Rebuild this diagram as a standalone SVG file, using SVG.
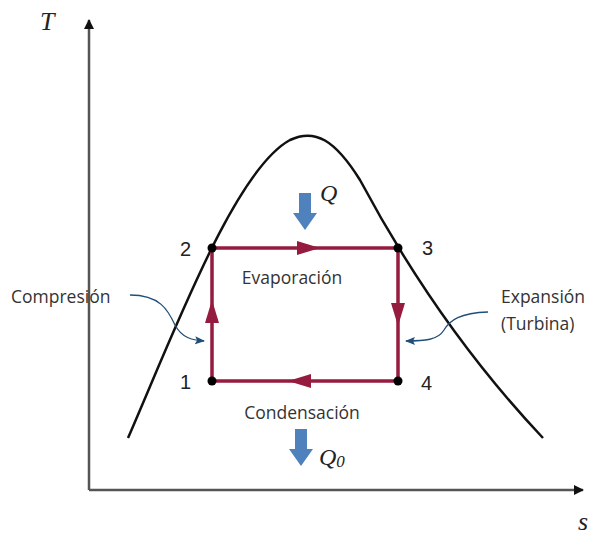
<svg xmlns="http://www.w3.org/2000/svg" width="594" height="536" viewBox="0 0 594 536">
<style>
.axis{stroke:#555;stroke-width:2.5;fill:none}
.cyc{stroke:#951B3F;stroke-width:3.5;fill:none}
.lbl{font-family:"Open Sans","Noto Sans",sans-serif;font-size:17.5px;fill:#333}
.num{font-family:"Liberation Sans",Arial,sans-serif;font-size:20px;fill:#222}
.math{font-family:"Liberation Serif","Times New Roman",serif;font-style:italic;fill:#222}
.blue{fill:#4F81BD}
.curv{stroke:#1F4E79;stroke-width:1.3;fill:none}
</style>
<defs>
<marker id="ax" markerWidth="10" markerHeight="10" refX="9" refY="5" orient="auto" markerUnits="userSpaceOnUse"><path d="M0,0 L10,5 L0,10 Z" fill="#111"/></marker>
<marker id="bl" markerWidth="10" markerHeight="10" refX="9" refY="5" orient="auto" markerUnits="userSpaceOnUse"><path d="M0,1 L10,5 L0,9 L2,5 Z" fill="#1F4E79"/></marker>
</defs>
<rect width="594" height="536" fill="#fff"/>
<g id="axes">
<line class="axis" x1="89" y1="490" x2="89" y2="20" marker-end="url(#ax)"/>
<line class="axis" x1="89" y1="490" x2="583" y2="490" marker-end="url(#ax)"/>
<text class="math" x="40" y="30" font-size="26">T</text>
<text class="math" x="578" y="530" font-size="26">s</text>
</g>
<g id="dome">
<path d="M128,438 C175,330 235,170 290,140 C315,128 335,140 360,180 C400,255 460,350 543,438" stroke="#111" stroke-width="2.5" fill="none"/>
</g>
<g id="connectors">
<path class="cyc" d="M212,381 L212,248 L398,248 L398,381 Z"/>
<polygon points="212,300 205,323 219,323" fill="#951B3F"/>
<polygon points="320,248 297,241 297,255" fill="#951B3F"/>
<polygon points="398,326 391,303 405,303" fill="#951B3F"/>
<polygon points="288,381 311,374 311,388" fill="#951B3F"/>
<path class="curv" d="M130,295 C160,295 168,310 175,325 C182,338 192,340 204,341" marker-end="url(#bl)"/>
<path class="curv" d="M488,312 C460,313 450,320 444,330 C438,340 425,341 406,341" marker-end="url(#bl)"/>
</g>
<g id="node1"><circle cx="212" cy="381" r="4.5" fill="#000"/><text class="num" x="180" y="389">1</text></g>
<g id="node2"><circle cx="212" cy="248" r="4.5" fill="#000"/><text class="num" x="180" y="256">2</text></g>
<g id="node3"><circle cx="398" cy="248" r="4.5" fill="#000"/><text class="num" x="422" y="255">3</text></g>
<g id="node4"><circle cx="398" cy="381" r="4.5" fill="#000"/><text class="num" x="421" y="390">4</text></g>
<g id="heat-in">
<polygon class="blue" points="299,193 311,193 311,213 317,213 305,230 293,213 299,213"/>
<text class="math" x="320" y="201" font-size="24">Q</text>
</g>
<g id="heat-out">
<polygon class="blue" points="295,429 307,429 307,449 313,449 301,466 289,449 295,449"/>
<text class="math" x="319" y="465" font-size="24">Q<tspan font-size="17" dy="2">0</tspan></text>
</g>
<g id="labels">
<text class="lbl" x="292" y="284" text-anchor="middle">Evaporación</text>
<text class="lbl" x="302" y="419" text-anchor="middle">Condensación</text>
<text class="lbl" x="11" y="303">Compresión</text>
<text class="lbl" x="501" y="303">Expansión</text>
<text class="lbl" x="501" y="330">(Turbina)</text>
</g>
</svg>
